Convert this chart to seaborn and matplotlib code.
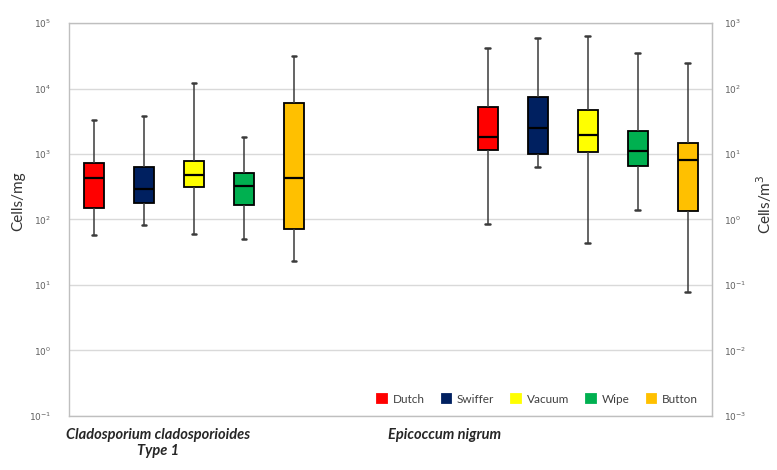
import numpy as np
import pandas as pd
import matplotlib
matplotlib.use('Agg')
import matplotlib.pyplot as plt
import seaborn as sns
from matplotlib.ticker import NullLocator

species = ['Cladosporium cladosporioides\nType 1', 'Epicoccum nigrum']
methods = ['Dutch', 'Swiffer', 'Vacuum', 'Wipe', 'Button']
colors = ['#FF0000', '#002060', '#FFFF00', '#00B050', '#FFC000']

# five number summaries per method (Cells/mg scale)
clado_min = [57, 82, 60, 50, 23.5]
clado_q1 = [151, 177, 317, 165, 72]
clado_med = [426, 289, 483, 328, 431]
clado_q3 = [721, 627, 791, 519, 5940]
clado_max = [3300, 3800, 12000, 1800, 31700]

epi_min = [85, 640, 44, 138, 7.9]
epi_q1 = [1150, 1000, 1070, 656, 136]
epi_med = [1820, 2470, 1930, 1100, 818]
epi_q3 = [5270, 7500, 4700, 2270, 1490]
epi_max = [41100, 59000, 63400, 34800, 24800]

left_ticks = [-1, 0, 1, 2, 3, 4, 5]
right_ticks = [-3, -2, -1, 0, 1, 2, 3]


def build_table():
    rows = []
    groups = [
        (species[0], [clado_min, clado_q1, clado_med, clado_q3, clado_max]),
        (species[1], [epi_min, epi_q1, epi_med, epi_q3, epi_max]),
    ]
    for name, stats in groups:
        for i, m in enumerate(methods):
            # 5 points -> quartiles land exactly on them
            for s in stats:
                rows.append({'species': name, 'method': m, 'value': s[i]})
    return pd.DataFrame(rows)


def main():
    df = build_table()

    sns.set_style('white')
    plt.rcParams['font.family'] = ['Lato', 'DejaVu Sans']

    fig, ax = plt.subplots(figsize=(7.77, 4.70), dpi=100)
    fig.subplots_adjust(left=0.089, right=0.916, bottom=0.115, top=0.951)

    cap_col = '#3b3b3b'
    sns.boxplot(data=df, x='species', y='value', hue='method', hue_order=methods,
                order=species, palette=colors, saturation=1, whis=(0, 100),
                width=0.635, gap=0.6, log_scale=True, linecolor='black',
                linewidth=1.3,
                medianprops=dict(color='black', linewidth=1.6),
                whiskerprops=dict(color=cap_col, linewidth=1.1),
                capprops=dict(color=cap_col, linewidth=1.8),
                ax=ax)

    # narrow caps
    for ln in ax.lines:
        x = np.asarray(ln.get_xdata(), dtype=float)
        y = np.asarray(ln.get_ydata(), dtype=float)
        if len(x) == 2 and y[0] == y[1] and ln.get_color() == cap_col:
            c = x.mean()
            ln.set_xdata([c - 0.006, c + 0.006])

    ax.set_xlim(-0.317, 1.315)
    ax.set_ylim(1e-1, 1e5)
    ax.set_yticks([10.0 ** k for k in left_ticks])
    ax.set_yticklabels(['$10^{%d}$' % k for k in left_ticks])
    ax.yaxis.set_minor_locator(NullLocator())
    ax.tick_params(axis='y', length=0, pad=13, labelsize=6.5, labelcolor='#606060')
    ax.tick_params(axis='x', length=0)
    ax.set_xticklabels([])
    ax.set_xlabel('')
    ax.set_ylabel('Cells/mg', fontsize=11, color='#333333')
    ax.yaxis.set_label_coords(-0.068, 0.547)
    ax.yaxis.grid(True, color='#d9d9d9', linewidth=1)
    ax.set_axisbelow(True)
    for sp in ax.spines.values():
        sp.set_visible(True)
        sp.set_color('#bfbfbf')
        sp.set_linewidth(1)

    sec = ax.secondary_yaxis('right', functions=(lambda v: v / 100, lambda v: v * 100))
    sec.set_yticks([10.0 ** k for k in right_ticks])
    sec.set_yticklabels(['$10^{%d}$' % k for k in right_ticks])
    sec.yaxis.set_minor_locator(NullLocator())
    sec.tick_params(axis='y', length=0, pad=9, labelsize=6.5, labelcolor='#606060')
    sec.spines['right'].set_color('#bfbfbf')
    fig.text(0.984, 0.566, 'Cells/m$^3$', rotation=90, ha='center', va='center',
             fontsize=11, color='#333333')

    # group labels under the plot
    ax.text(0.138, -0.03, species[0], transform=ax.transAxes, ha='center', va='top',
            fontsize=10.5, fontweight='bold', fontstyle='italic', linespacing=1.2)
    ax.text(0.585, -0.03, species[1], transform=ax.transAxes, ha='center', va='top',
            fontsize=10.5, fontweight='bold', fontstyle='italic')

    sns.move_legend(ax, 'center right', bbox_to_anchor=(0.995, 0.043), ncol=5,
                    frameon=False, title=None, fontsize=8.5, handlelength=0.8,
                    handleheight=0.8, columnspacing=1.45, handletextpad=0.5)
    leg = ax.get_legend()
    for h in leg.legend_handles:
        h.set_edgecolor(h.get_facecolor())
    for t in leg.get_texts():
        t.set_color('#404040')

    fig.savefig('out.png', dpi=100)


if __name__ == '__main__':
    main()
